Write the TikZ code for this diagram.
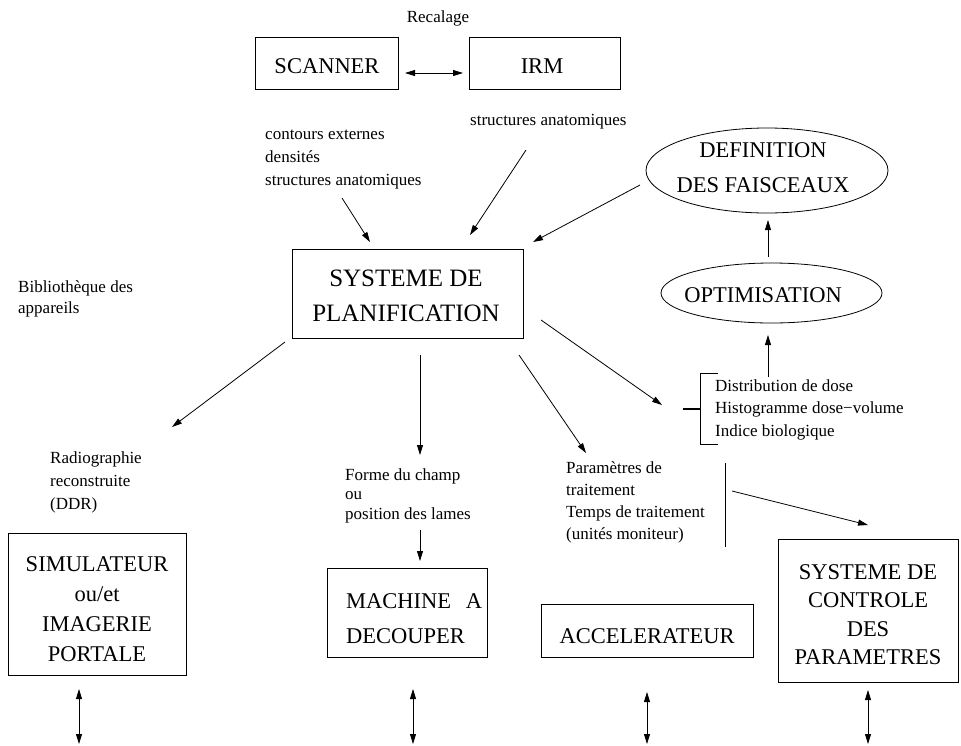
\documentclass[tikz,border=0pt]{standalone}
\usepackage{fontspec}
\setmainfont{Liberation Serif}
\usetikzlibrary{arrows.meta,shapes.geometric}
\begin{document}
\begin{tikzpicture}[x=1pt,y=-1pt,
  lw/.style={line width=0.8pt},
  tip/.tip={Triangle[length=10pt,width=6pt]},
  arr/.style={lw,-tip},
  darr/.style={lw,tip-tip},
  boxr/.style={draw,lw,rectangle,inner sep=0pt},
  ell/.style={draw,lw,ellipse,inner sep=0pt},
  small/.style={font=\fontsize{17}{23}\selectfont,inner sep=0pt,align=left,anchor=base west},
  big/.style={font=\fontsize{22.5}{29.7}\selectfont,inner sep=0pt,align=center,anchor=base},
]
\useasboundingbox (0,0) rectangle (961,745);

% boxes
\node[boxr, minimum width=143, minimum height=52] (scanner) at (326.5,63) {};
\node[boxr, minimum width=151, minimum height=52] (irm) at (544.5,63) {};
\node[boxr, minimum width=231, minimum height=89] (plan) at (407.5,293.5) {};
\node[ell, minimum width=242, minimum height=85] (def) at (767,170.5) {};
\node[ell, minimum width=221, minimum height=60] (opt) at (771.5,293) {};
\node[boxr, minimum width=178, minimum height=142] (sim) at (97,604) {};
\node[boxr, minimum width=160, minimum height=89] (mach) at (407,612.5) {};
\node[boxr, minimum width=212, minimum height=53] (acc) at (647,630.5) {};
\node[boxr, minimum width=180, minimum height=143] (ctrl) at (868,610.5) {};

% box texts (y = baseline of the last line)
\node[big] (scannert) at (327,73) {SCANNER};
\node[big] (irmt) at (542,73) {IRM};
\node[big, font=\fontsize{25}{35}\selectfont] (plant) at (406,321) {SYSTEME DE\\PLANIFICATION};
\node[big, font=\fontsize{22.5}{35}\selectfont] (deft) at (763,192) {DEFINITION\\DES FAISCEAUX};
\node[big] (optt) at (763,302) {OPTIMISATION};
\node[big] (simt) at (97,661) {SIMULATEUR\\ou/et\\IMAGERIE\\PORTALE};
\node[big, align=left, anchor=base west, font=\fontsize{22.5}{35}\selectfont] (macht) at (346,643) {MACHINE\hspace{14.8pt}A\\DECOUPER};
\node[big] (acct) at (647,643) {ACCELERATEUR};
\node[big, font=\fontsize{22.5}{28.5}\selectfont] (ctrlt) at (868,664.5) {SYSTEME DE\\CONTROLE\\DES\\PARAMETRES};

% small texts (y = baseline of the last line)
\node[small, anchor=base] (recalage) at (438,22) {Recalage};
\node[small] (ct) at (265,185) {contours externes\\densités\\structures anatomiques};
\node[small] (sa) at (470,125) {structures anatomiques};
\node[small, font=\fontsize{17}{21}\selectfont] (bib) at (18,313) {Bibliothèque des\\appareils};
\node[small] (radio) at (50,509) {Radiographie\\reconstruite\\(DDR)};
\node[small, font=\fontsize{17}{19.5}\selectfont] (forme) at (345,519) {Forme du champ\\ou\\position des lames};
\node[small, font=\fontsize{17}{22}\selectfont] (param) at (566,539) {Paramètres de\\traitement\\Temps de traitement\\(unités moniteur)};
\node[small, font=\fontsize{17}{22.5}\selectfont] (dist) at (715,436) {Distribution de dose\\Histogramme dose−volume\\Indice biologique};

% connector end points
\coordinate (r1) at (405,73);   \coordinate (r2) at (463,73);
\coordinate (c1) at (342,198);  \coordinate (c2) at (370,242);
\coordinate (s1) at (526,150);  \coordinate (s2) at (470,235);
\coordinate (d1) at (640,185);  \coordinate (d2) at (533,242);
\coordinate (p1) at (285,342);  \coordinate (p2) at (172,427);
\coordinate (p3) at (420,355);  \coordinate (p4) at (420,455);
\coordinate (p5) at (519,355);  \coordinate (p6) at (586,453);
\coordinate (p7) at (541,320);  \coordinate (p8) at (662,405);
\coordinate (o1) at (768,377);  \coordinate (o2) at (768,335);
\coordinate (o3) at (768,257);  \coordinate (o4) at (768,220);
\coordinate (f1) at (420,530);  \coordinate (f2) at (420,561);
\coordinate (t1) at (732,491);  \coordinate (t2) at (868,525);
\coordinate (v1) at (725,463);  \coordinate (v2) at (725,547);
\coordinate (b1) at (718,373);  \coordinate (b2) at (700,373);
\coordinate (b3) at (700,444);  \coordinate (b4) at (718,444);
\coordinate (k1) at (683,409);  \coordinate (k2) at (700,409);
\coordinate (e1a) at (79,689);  \coordinate (e1b) at (79,744);
\coordinate (e2a) at (413,689); \coordinate (e2b) at (413,744);
\coordinate (e3a) at (647,692); \coordinate (e3b) at (647,744);
\coordinate (e4a) at (868,690); \coordinate (e4b) at (868,744);

% connectors
\draw[darr] (r1) -- (r2);
\draw[arr] (c1) -- (c2);
\draw[arr] (s1) -- (s2);
\draw[arr] (d1) -- (d2);
\draw[arr] (p1) -- (p2);
\draw[arr] (p3) -- (p4);
\draw[arr] (p5) -- (p6);
\draw[arr] (p7) -- (p8);
\draw[arr] (o1) -- (o2);
\draw[arr] (o3) -- (o4);
\draw[arr] (f1) -- (f2);
\draw[arr] (t1) -- (t2);
\draw[lw] (v1) -- (v2);
\draw[lw] (b1) -- (b2) -- (b3) -- (b4);
\draw[line width=1.8pt] (k1) -- (k2);
\draw[darr] (e1a) -- (e1b);
\draw[darr] (e2a) -- (e2b);
\draw[darr] (e3a) -- (e3b);
\draw[darr] (e4a) -- (e4b);
\end{tikzpicture}
\end{document}
